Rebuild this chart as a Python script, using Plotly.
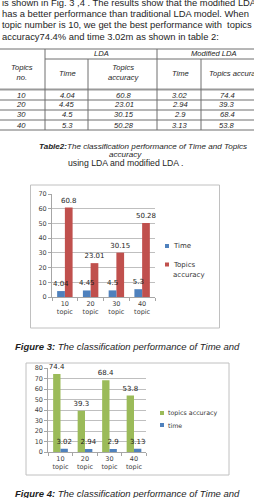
import plotly.graph_objects as go

# ---------------- data ----------------
topics = [10, 20, 30, 40]
categories = ["10<br>topic", "20<br>topic", "30<br>topic", "40<br>topic"]
lda_time = [4.04, 4.45, 4.5, 5.3]
lda_acc = [60.8, 23.01, 30.15, 50.28]
mod_time = [3.02, 2.94, 2.9, 3.13]
mod_acc = [74.4, 39.3, 68.4, 53.8]
fig3_series = ["Time", "Topics accuracy"]
fig4_series = ["topics accuracy", "time"]

paragraph = [
    "is shown in Fig. 3 ,4 . The results show that the modified LDA",
    "has a better performance than traditional LDA model. When",
    "topic number is 10, we get the best performance with  topics",
    "accuracy74.4% and time 3.02m as shown in table 2:",
]

W, H = 254, 498
BLUE, RED, GREEN = "#4F81BD", "#C0504D", "#9BBB59"
TXT = "#1e1e1e"
SANS = "Liberation Sans, Arial, sans-serif"
CHF = "DejaVu Sans, sans-serif"


def px(x):
    return x / W


def py(y):
    return 1 - y / H


fig = go.Figure()

# ---------------- Figure 3 chart ----------------
fig.add_trace(go.Bar(x=categories, y=lda_acc, name=fig3_series[1], xaxis="x", yaxis="y",
                     marker=dict(color=RED, line=dict(width=0)), width=0.3, offset=0,
                     text=[str(v) for v in lda_acc], textposition="outside",
                     textfont=dict(family=CHF, size=7, color=TXT), constraintext="none",
                     cliponaxis=False))
fig.add_trace(go.Bar(x=categories, y=lda_time, name=fig3_series[0], xaxis="x", yaxis="y",
                     marker=dict(color=BLUE, line=dict(width=0)), width=0.3, offset=-0.3,
                     text=[str(v) for v in lda_time], textposition="outside",
                     textfont=dict(family=CHF, size=7, color=TXT), constraintext="none",
                     cliponaxis=False))

# ---------------- Figure 4 chart ----------------
fig.add_trace(go.Bar(x=categories, y=mod_acc, name=fig4_series[0], xaxis="x2", yaxis="y2",
                     marker=dict(color=GREEN, line=dict(width=0)), width=0.3, offset=-0.3,
                     text=[str(v) for v in mod_acc], textposition="outside",
                     textfont=dict(family=CHF, size=7, color=TXT), constraintext="none",
                     cliponaxis=False))
fig.add_trace(go.Bar(x=categories, y=mod_time, name=fig4_series[1], xaxis="x2", yaxis="y2",
                     marker=dict(color=BLUE, line=dict(width=0)), width=0.3, offset=0,
                     text=[str(v) for v in mod_time], textposition="outside",
                     textfont=dict(family=CHF, size=7, color=TXT), constraintext="none",
                     cliponaxis=False))

xax = dict(type="category", showline=True, linecolor="#a6a6a6", linewidth=1,
           ticks="outside", tickson="boundaries", ticklen=3, tickcolor="#a6a6a6",
           tickfont=dict(family=CHF, size=6.5, color="#404040"), showgrid=False,
           zeroline=False, fixedrange=True, tickangle=0, automargin=False)
yax = dict(dtick=10, showgrid=True, gridcolor="#bfbfbf", gridwidth=1, showline=True,
           linecolor="#a6a6a6", ticks="outside", ticklen=3, tickcolor="#a6a6a6",
           tickfont=dict(family=CHF, size=6.5, color="#404040"), zeroline=False,
           fixedrange=True, automargin=False)

shapes = []
ann = []


def line(x0, y0, x1, y1, color="#6e6e6e", w=1):
    shapes.append(dict(type="line", xref="paper", yref="paper", x0=px(x0), y0=py(y0),
                       x1=px(x1), y1=py(y1), line=dict(color=color, width=w)))


def rect(x0, y0, x1, y1, fill=None, color="#c0c0c0", w=1):
    d = dict(type="rect", xref="paper", yref="paper", x0=px(x0), y0=py(y0),
             x1=px(x1), y1=py(y1), line=dict(color=color, width=w))
    if fill:
        d["fillcolor"] = fill
        d["line"] = dict(width=0)
    shapes.append(d)


def text(x, y, s, size, anchor="left", family=SANS, color=TXT):
    ann.append(dict(xref="paper", yref="paper", x=px(x), y=py(y), text=s, showarrow=False,
                    xanchor=anchor, yanchor="middle", align=anchor,
                    font=dict(family=family, size=size, color=color)))


# ---------------- paragraph ----------------
for i, s in enumerate(paragraph):
    text(0, 2.5 + 11.2 * i, s, 9.4)

# ---------------- table ----------------
line(0, 49, W, 49)
line(45, 59, W, 59)
line(0, 89.5, W, 89.5, color="#9a9a9a", w=2)
for yy in [100, 110, 120, 130]:
    line(0, yy, W, yy)
line(45, 49, 45, 130)
line(157, 49, 157, 130)
line(88, 59, 88, 130)
line(201, 59, 201, 130)

TS = 7.6
text(101, 53.5, "<i>LDA</i>", TS, "center")
text(214, 53.5, "<i>Modified LDA</i>", TS, "center")
text(22, 72.5, "<i>Topics<br>no.</i>", TS, "center")
text(67, 74, "<i>Time</i>", TS, "center")
text(124, 72.5, "<i>Topics<br>accuracy</i>", TS, "center")
text(180, 74, "<i>Time</i>", TS, "center")
text(207, 74, "<i>Topics accuracy</i>", TS, "left")
for i in range(len(topics)):
    yy = 95 + 10 * i
    text(21, yy, "<i>%s</i>" % topics[i], TS, "center")
    text(67, yy, "<i>%s</i>" % lda_time[i], TS, "center")
    text(124, yy, "<i>%s</i>" % lda_acc[i], TS, "center")
    text(180, yy, "<i>%s</i>" % mod_time[i], TS, "center")
    text(227, yy, "<i>%s</i>" % mod_acc[i], TS, "center")

text(143, 146, "<b><i>Table2:</i></b><i>The classification performance of Time and Topics</i>", 8.1, "center")
text(125, 154.3, "<i>accuracy</i>", 8.1, "center")
text(125, 162.5, "using LDA and modified LDA .", 8.7, "center")

# ---------------- chart frames & legends ----------------
rect(30.5, 185, 219.5, 328)
rect(26, 363, 229, 475)

rect(165, 244, 169, 248, fill=BLUE)
text(170.5, 246, fig3_series[0], 7, "left", CHF, "#333333")
rect(165, 262.5, 169, 266.5, fill=RED)
text(170.5, 264.5, fig3_series[1].split(" ")[0], 7, "left", CHF, "#333333")
text(170.5, 275, fig3_series[1].split(" ")[1], 7, "left", CHF, "#333333")

rect(160, 411, 164, 415, fill=GREEN)
text(165.5, 413, fig4_series[0], 6.3, "left", CHF, "#333333")
rect(160, 423, 164, 427, fill=BLUE)
text(165.5, 425, fig4_series[1], 6.3, "left", CHF, "#333333")

# ---------------- captions ----------------
text(13, 346, "<b><i>Figure 3:</i></b><i> The classification performance of Time and</i>", 9.5)
text(13, 493, "<b><i>Figure 4:</i></b><i> The classification performance of Time and</i>", 9.5)

fig.update_layout(
    width=W, height=H, margin=dict(l=0, r=0, t=0, b=0),
    paper_bgcolor="white", plot_bgcolor="white",
    showlegend=False, barmode="overlay",
    xaxis=dict(xax, domain=[px(52), px(155)], anchor="y"),
    yaxis=dict(yax, domain=[py(297), py(194)], range=[0, 70], anchor="x"),
    xaxis2=dict(xax, domain=[px(48.25), px(146.25)], anchor="y2"),
    yaxis2=dict(yax, domain=[py(452), py(368)], range=[0, 80], anchor="x2"),
    shapes=shapes, annotations=ann,
)

fig.write_html("out.html")
